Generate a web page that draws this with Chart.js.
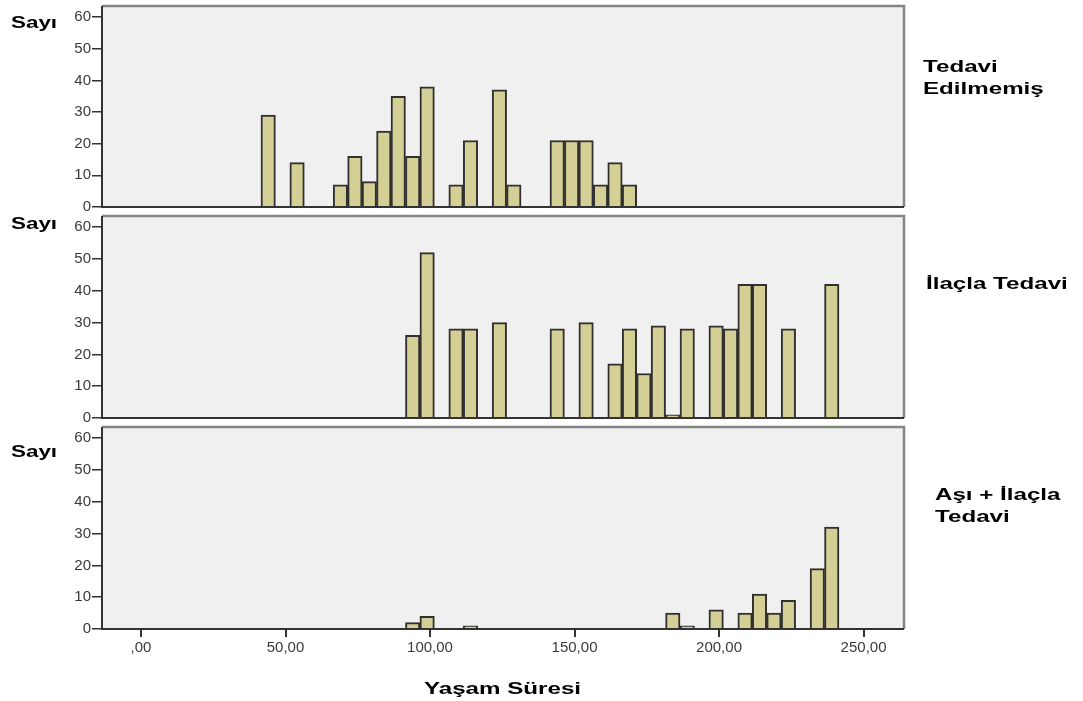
<!DOCTYPE html>
<html>
<head>
<meta charset="utf-8">
<script src="https://cdn.jsdelivr.net/npm/chart.js@4/dist/chart.umd.min.js"></script>
<style>
  body { margin: 0; background: #fff; width: 1083px; height: 701px; position: relative; overflow: hidden; font-family: "Liberation Sans", Arial, sans-serif; }
  .box { position: absolute; left: 0; width: 1083px; }
  .lbl { position: absolute; font-weight: bold; color: #000; white-space: nowrap; transform-origin: 0 0; }
  .sayi { font-size: 16px; line-height: 20px; left: 11px; transform: scaleX(1.4); }
  .side { font-size: 17px; line-height: 22px; transform: scaleX(1.42); }
</style>
</head>
<body>
<div class="box" style="top:0px;height:212px"><canvas id="c1"></canvas></div>
<div class="box" style="top:210px;height:213px"><canvas id="c2"></canvas></div>
<div class="box" style="top:421px;height:280px"><canvas id="c3"></canvas></div>

<div class="lbl sayi" style="top:13px">Sayı</div>
<div class="lbl sayi" style="top:214px">Sayı</div>
<div class="lbl sayi" style="top:442px">Sayı</div>
<div class="lbl side" style="left:923px;top:56px">Tedavi<br>Edilmemiş</div>
<div class="lbl side" style="left:926px;top:273px">İlaçla Tedavi</div>
<div class="lbl side" style="left:935px;top:484px">Aşı + İlaçla<br>Tedavi</div>
<div class="lbl side" style="left:424px;top:678px">Yaşam Süresi</div>

<script>
// bin centres (Yaşam Süresi) and counts (Sayı)
const untreatedX = [44, 54, 69, 74, 79, 84, 89, 94, 99, 109, 114, 124, 129, 144, 149, 154, 159, 164, 169];
const untreatedN = [29, 14, 7, 16, 8, 24, 35, 16, 38, 7, 21, 37, 7, 21, 21, 21, 7, 14, 7];

const drugX = [94, 99, 109, 114, 124, 144, 154, 164, 169, 174, 179, 184, 189, 199, 204, 209, 214, 224, 239];
const drugN = [26, 52, 28, 28, 30, 28, 30, 17, 28, 14, 29, 1, 28, 29, 28, 42, 42, 28, 42];

const vaccineX = [94, 99, 114, 184, 189, 199, 209, 214, 219, 224, 234, 239];
const vaccineN = [2, 4, 1, 5, 1, 6, 5, 11, 5, 9, 19, 32];

const yTicks = [0, 10, 20, 30, 40, 50, 60];
const xTicks = [0, 50, 100, 150, 200, 250];

const panelBg = {
  id: 'panelBg',
  beforeDraw(chart) {
    const a = chart.chartArea, ctx = chart.ctx;
    ctx.save();
    ctx.fillStyle = '#f0f0f0';
    ctx.fillRect(a.left, a.top, a.right - a.left, a.bottom - a.top);
    ctx.restore();
  },
  afterDraw(chart) {
    const a = chart.chartArea, ctx = chart.ctx;
    ctx.save();
    ctx.lineWidth = 2.5;
    ctx.strokeStyle = '#858585';
    ctx.beginPath();
    ctx.moveTo(a.left, a.top); ctx.lineTo(a.right, a.top); ctx.lineTo(a.right, a.bottom);
    ctx.stroke();
    ctx.strokeStyle = '#333';
    ctx.lineWidth = 2;
    ctx.beginPath();
    ctx.moveTo(a.left, a.top); ctx.lineTo(a.left, a.bottom); ctx.lineTo(a.right, a.bottom);
    ctx.stroke();
    ctx.restore();
  }
};

function noPad(s) {
  s.paddingTop = 0; s.paddingBottom = 0; s.paddingLeft = 0; s.paddingRight = 0;
}

function makePanel(id, xs, ns, showX) {
  const pts = xs.map((x, i) => ({ x: x, y: ns[i] }));
  return new Chart(document.getElementById(id), {
    type: 'bar',
    data: {
      datasets: [{
        data: pts,
        backgroundColor: '#d4cf95',
        borderColor: '#303030',
        borderWidth: 2,
        barPercentage: 1,
        categoryPercentage: 1
      }]
    },
    options: {
      responsive: true,
      maintainAspectRatio: false,
      animation: false,
      layout: { padding: { top: 6, right: 179, bottom: showX ? 0 : 5, left: 0 } },
      plugins: { legend: { display: false }, tooltip: { enabled: false } },
      scales: {
        x: {
          type: 'linear',
          display: showX,
          offset: false,
          min: -13.5,
          max: 264,
          afterBuildTicks: s => { s.ticks = xTicks.map(v => ({ value: v })); },
          afterFit: s => { noPad(s); s.height = showX ? 72 : 0; },
          ticks: {
            color: '#3a3a3a',
            font: { family: 'Liberation Sans', size: 15 },
            padding: 2,
            callback: v => (v === 0 ? ',00' : v + ',00')
          },
          grid: { offset: false, drawOnChartArea: false, tickLength: 8, color: '#333', lineWidth: 2 },
          border: { display: false }
        },
        y: {
          min: 0,
          max: 63.5,
          afterBuildTicks: s => { s.ticks = yTicks.map(v => ({ value: v })); },
          afterFit: s => { noPad(s); s.width = 102; },
          ticks: { color: '#3a3a3a', font: { family: 'Liberation Sans', size: 15 }, padding: 1 },
          grid: { drawOnChartArea: false, tickLength: 10, color: '#333', lineWidth: 1.5 },
          border: { display: false }
        }
      }
    },
    plugins: [panelBg]
  });
}

makePanel('c1', untreatedX, untreatedN, false);
makePanel('c2', drugX, drugN, false);
makePanel('c3', vaccineX, vaccineN, true);
</script>
</body>
</html>
